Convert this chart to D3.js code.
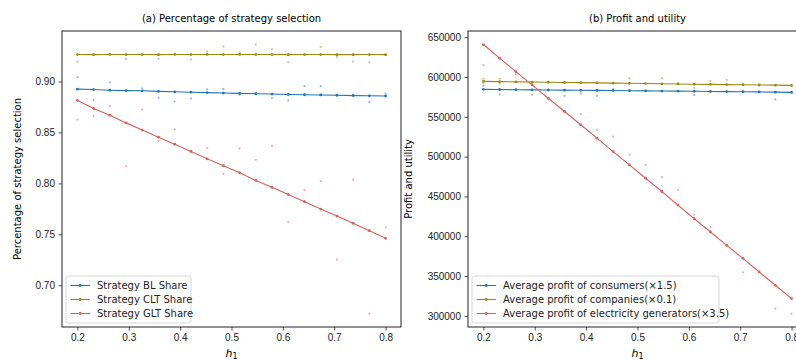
<!DOCTYPE html>
<html>
<head>
<meta charset="utf-8">
<script src="https://cdn.jsdelivr.net/npm/d3@7"></script>
<style>
  html, body { margin: 0; padding: 0; background: #fff; overflow: hidden; }
  svg { display: block; font-family: "DejaVu Sans", sans-serif; }
  .tick text { font-size: 10px; fill: #222; }
</style>
</head>
<body>
<svg id="chart" width="796" height="360"></svg>
<script>
// h1 values shared by both panels
const hValues = [0.2, 0.2316, 0.2632, 0.2947, 0.3263, 0.3579, 0.3895, 0.4211, 0.4526, 0.4842,
  0.5158, 0.5474, 0.5789, 0.6105, 0.6421, 0.6737, 0.7053, 0.7368, 0.7684, 0.8];
const xTicks = [0.2, 0.3, 0.4, 0.5, 0.6, 0.7, 0.8];

// panel (a) mean lines
const blShare = [0.8925, 0.8921, 0.8915, 0.8911, 0.8909, 0.8903, 0.8899, 0.8895, 0.8891, 0.8887,
  0.8884, 0.8880, 0.8877, 0.8873, 0.8870, 0.8868, 0.8865, 0.8862, 0.8860, 0.8858];
const cltShare = [0.9265, 0.9264, 0.9266, 0.9265, 0.9265, 0.9264, 0.9266, 0.9265, 0.9266, 0.9265,
  0.9266, 0.9265, 0.9265, 0.9264, 0.9265, 0.9265, 0.9264, 0.9264, 0.9265, 0.9264];
const gltShare = [0.8814, 0.8735, 0.8670, 0.8594, 0.8523, 0.8454, 0.8385, 0.8314, 0.8241, 0.8173,
  0.8104, 0.8029, 0.7961, 0.7892, 0.7820, 0.7748, 0.7679, 0.7608, 0.7535, 0.7461];

// panel (a) single runs (faded dots), [h1, value]
const blRuns = [[0.2, 0.9042], [0.2316, 0.882], [0.2632, 0.8993], [0.3263, 0.8934], [0.3579, 0.884],
  [0.3895, 0.8804], [0.4211, 0.8833], [0.4526, 0.8922], [0.4842, 0.8927], [0.5158, 0.8868],
  [0.5789, 0.884], [0.6105, 0.8814], [0.6421, 0.8954], [0.6737, 0.8954], [0.7053, 0.8862],
  [0.7368, 0.8872], [0.7684, 0.8797], [0.8, 0.8882]];
const cltRuns = [[0.2, 0.9196], [0.2947, 0.9222], [0.3579, 0.9222], [0.4211, 0.9216], [0.4526, 0.9297],
  [0.4842, 0.9343], [0.5158, 0.9284], [0.5474, 0.9363], [0.5789, 0.9317], [0.6105, 0.9189],
  [0.6737, 0.9339], [0.7053, 0.9241], [0.7368, 0.9196], [0.7684, 0.9189], [0.8, 0.926]];
const gltRuns = [[0.2, 0.8627], [0.2316, 0.8663], [0.2632, 0.8758], [0.2947, 0.8167], [0.3263, 0.8725],
  [0.3579, 0.8418], [0.3895, 0.853], [0.4526, 0.8349], [0.4842, 0.8094], [0.5158, 0.8343],
  [0.5474, 0.8231], [0.5789, 0.8369], [0.6105, 0.7621], [0.6421, 0.7934], [0.6737, 0.8023],
  [0.7053, 0.7251], [0.7368, 0.8035], [0.7684, 0.6722], [0.8, 0.7569]];

// panel (b) mean lines
const consumerProfit = [584500, 584300, 584100, 583900, 583700, 583500, 583300, 583200, 583000, 582800,
  582600, 582400, 582300, 582100, 581900, 581700, 581500, 581300, 581000, 580700];
const companyProfit = [594500, 594200, 593900, 593700, 593400, 593100, 592900, 592600, 592300, 592100,
  591800, 591500, 591300, 591000, 590800, 590500, 590300, 590000, 589800, 589500];
const generatorProfit = [640800, 623700, 606800, 590200, 573300, 556700, 540000, 523200, 506300, 489600,
  472900, 456200, 439100, 422000, 405300, 388500, 372200, 355200, 338400, 321700];

// panel (b) single runs
const consumerRuns = [[0.2, 589000], [0.2316, 578200], [0.3579, 576400], [0.3895, 579400], [0.4211, 576400],
  [0.4526, 585200], [0.6105, 577300], [0.7684, 571900]];
const companyRuns = [[0.2, 597800], [0.2, 592000], [0.2316, 597800], [0.2316, 592000], [0.2632, 603300],
  [0.3895, 592700], [0.4842, 598200], [0.5474, 598200], [0.6105, 586100], [0.6421, 594900], [0.6737, 596500]];
const generatorRuns = [[0.2, 614900], [0.2947, 577300], [0.3895, 553500], [0.4211, 533500], [0.4526, 525100],
  [0.4842, 502500], [0.5158, 489600], [0.5474, 474200], [0.5789, 458300], [0.6105, 427300],
  [0.6421, 411600], [0.7053, 354700], [0.7684, 309200], [0.8, 302900]];

const blue = '#1f77b4', olive = '#998a12', red = '#d6605a';

const svg = d3.select('#chart');

function drawPanel(opt) {
  const x = d3.scaleLinear().domain([0.17, 0.83]).range([opt.left, opt.left + 339]);
  const y = d3.scaleLinear().domain(opt.yDomain).range([327, 31]);
  const g = svg.append('g');

  // faded single runs
  opt.series.forEach(s => {
    g.append('g').selectAll('circle')
      .data(s.runs)
      .enter()
      .append('circle')
      .attr('cx', d => x(d[0]))
      .attr('cy', d => y(d[1]))
      .attr('r', 1.1)
      .attr('fill', s.color)
      .attr('opacity', 0.5);
  });

  // mean lines with small markers
  const line = d3.line().x((d, i) => x(hValues[i])).y(d => y(d));
  opt.series.forEach(s => {
    g.append('path')
      .datum(s.values)
      .attr('fill', 'none')
      .attr('stroke', s.color)
      .attr('stroke-width', 1.1)
      .attr('d', line);
    g.append('g').selectAll('circle')
      .data(s.values)
      .enter()
      .append('circle')
      .attr('cx', (d, i) => x(hValues[i]))
      .attr('cy', d => y(d))
      .attr('r', 1.4)
      .attr('fill', s.color);
  });

  // axes
  const xAxis = d3.axisBottom(x).tickValues(xTicks).tickSize(3.5).tickPadding(3.5)
    .tickFormat(d3.format('.1f'));
  g.append('g').attr('transform', 'translate(0,327)').call(xAxis)
    .call(a => a.select('.domain').remove());
  const yAxis = d3.axisLeft(y).tickValues(opt.yTicks).tickSize(3.5).tickPadding(3.5)
    .tickFormat(opt.yFormat);
  g.append('g').attr('transform', 'translate(' + opt.left + ',0)').call(yAxis)
    .call(a => a.select('.domain').remove());
  g.selectAll('.tick line').attr('stroke', '#222').attr('stroke-width', 0.8);

  g.append('rect')
    .attr('x', opt.left).attr('y', 31)
    .attr('width', 339).attr('height', 296)
    .attr('fill', 'none').attr('stroke', '#222').attr('stroke-width', 1);

  // texts
  g.append('text')
    .attr('x', opt.left + 169.5).attr('y', 22)
    .attr('text-anchor', 'middle')
    .style('font-size', '10px')
    .text(opt.title);
  g.append('text')
    .attr('transform', 'translate(' + opt.yLabelX + ',179) rotate(-90)')
    .attr('text-anchor', 'middle')
    .style('font-size', '10px')
    .text(opt.yLabel);
  const xl = g.append('text')
    .attr('x', opt.left + 169.5).attr('y', 357)
    .attr('text-anchor', 'middle')
    .style('font-size', '11px')
    .style('font-style', 'italic');
  xl.append('tspan').text('h');
  xl.append('tspan').attr('dy', 2).style('font-size', '8px').style('font-style', 'normal').text('1');

  // legend
  const lg = g.append('g').attr('transform', 'translate(' + (opt.left + 4) + ',276)');
  lg.append('rect')
    .attr('width', opt.legendWidth).attr('height', 47)
    .attr('rx', 2.5)
    .attr('fill', '#fff').attr('fill-opacity', 0.8)
    .attr('stroke', '#ccc').attr('stroke-width', 0.8);
  opt.series.forEach((s, i) => {
    const row = lg.append('g').attr('transform', 'translate(0,' + (9.5 + i * 14) + ')');
    row.append('line').attr('x1', 4.5).attr('x2', 24).attr('stroke', s.color).attr('stroke-width', 1.1);
    row.append('circle').attr('cx', 14.2).attr('r', 1.4).attr('fill', s.color);
    row.append('text').attr('x', 31).attr('dy', '0.35em').style('font-size', '10px').attr('fill', '#222').text(s.name);
  });
}

drawPanel({
  left: 62,
  yDomain: [0.659, 0.9496],
  yTicks: [0.70, 0.75, 0.80, 0.85, 0.90],
  yFormat: d3.format('.2f'),
  title: '(a) Percentage of strategy selection',
  yLabel: 'Percentage of strategy selection',
  yLabelX: 21,
  legendWidth: 125,
  series: [
    { name: 'Strategy BL Share', color: blue, values: blShare, runs: blRuns },
    { name: 'Strategy CLT Share', color: olive, values: cltShare, runs: cltRuns },
    { name: 'Strategy GLT Share', color: red, values: gltShare, runs: gltRuns }
  ]
});

drawPanel({
  left: 468,
  yDomain: [286000, 657800],
  yTicks: [300000, 350000, 400000, 450000, 500000, 550000, 600000, 650000],
  yFormat: d3.format('d'),
  title: '(b) Profit and utility',
  yLabel: 'Profit and utility',
  yLabelX: 412,
  legendWidth: 247,
  series: [
    { name: 'Average profit of consumers(\u00d71.5)', color: blue, values: consumerProfit, runs: consumerRuns },
    { name: 'Average profit of companies(\u00d70.1)', color: olive, values: companyProfit, runs: companyRuns },
    { name: 'Average profit of electricity generators(\u00d73.5)', color: red, values: generatorProfit, runs: generatorRuns }
  ]
});
</script>
</body>
</html>
